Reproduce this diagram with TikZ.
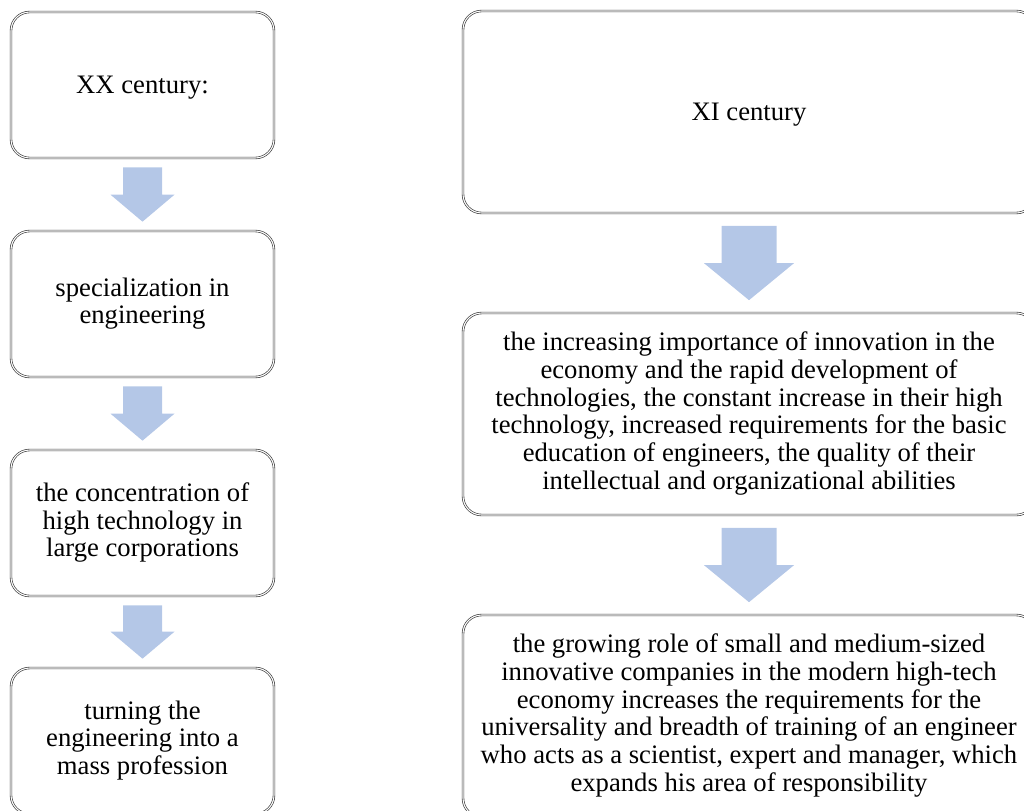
\documentclass[tikz,border=0pt]{standalone}
\usepackage{fontspec}
\setmainfont{Liberation Serif}
\usetikzlibrary{calc}
\definecolor{arrowblue}{RGB}{180,199,231}
\definecolor{boxline}{RGB}{60,60,60}
\tikzset{
  basebox/.style={draw=boxline, double=white, line width=0.5pt, double distance=0.8pt,
    rounded corners=14pt, inner sep=0pt, align=center,
    font=\fontsize{20pt}{20.8pt}\selectfont,
    execute at begin node={\rule{0pt}{17pt}},
    execute at end node={\rule[-5pt]{0pt}{5pt}}},
  lbox/.style={basebox, minimum width=197.25pt, minimum height=109.5pt},
  rbox/.style={basebox, minimum width=429pt, minimum height=151.5pt},
}
% #1 from, #2 to, #3 half shaft, #4 half head, #5 head length, #6 gap
\newcommand{\blockarr}[6]{%
  \fill[arrowblue] ($(#1.south)+(-#3,#6)$) -- ($(#1.south)+(#3,#6)$)
    -- ($(#2.north)+(#3,-#6-#5)$) -- ($(#2.north)+(#4,-#6-#5)$)
    -- ($(#2.north)+(0,-#6)$) -- ($(#2.north)+(-#4,-#6-#5)$)
    -- ($(#2.north)+(-#3,-#6-#5)$) -- cycle;}
\begin{document}
\begin{tikzpicture}[x=0.75pt,y=-0.75pt]
\useasboundingbox (0,0) rectangle (1024,810);
\clip (0,0) rectangle (1024,810);
\node[lbox] (l1) at (142.5,85) {XX century:};
\node[lbox] (l2) at (142.5,304) {specialization in\\engineering};
\node[lbox] (l3) at (142.5,523) {the concentration of\\high technology in\\large corporations};
\node[lbox] (l4) at (142.5,741) {turning the\\engineering into a\\mass profession};
\node[rbox] (r1) at (749,112) {XI century};
\node[rbox] (r2) at (749,414) {the increasing importance of innovation in the\\economy and the rapid development of\\technologies, the constant increase in their high\\technology, increased requirements for the basic\\education of engineers, the quality of their\\intellectual and organizational abilities};
\node[rbox] (r3) at (749,716) {the growing role of small and medium-sized\\innovative companies in the modern high-tech\\economy increases the requirements for the\\universality and breadth of training of an engineer\\who acts as a scientist, expert and manager, which\\expands his area of responsibility};
\blockarr{l1}{l2}{19.5}{32}{27}{9}
\blockarr{l2}{l3}{19.5}{32}{27}{9}
\blockarr{l3}{l4}{19.5}{32}{27}{9}
\blockarr{r1}{r2}{27.5}{45}{37}{12.5}
\blockarr{r2}{r3}{27.5}{45}{37}{12.5}
\end{tikzpicture}
\end{document}
